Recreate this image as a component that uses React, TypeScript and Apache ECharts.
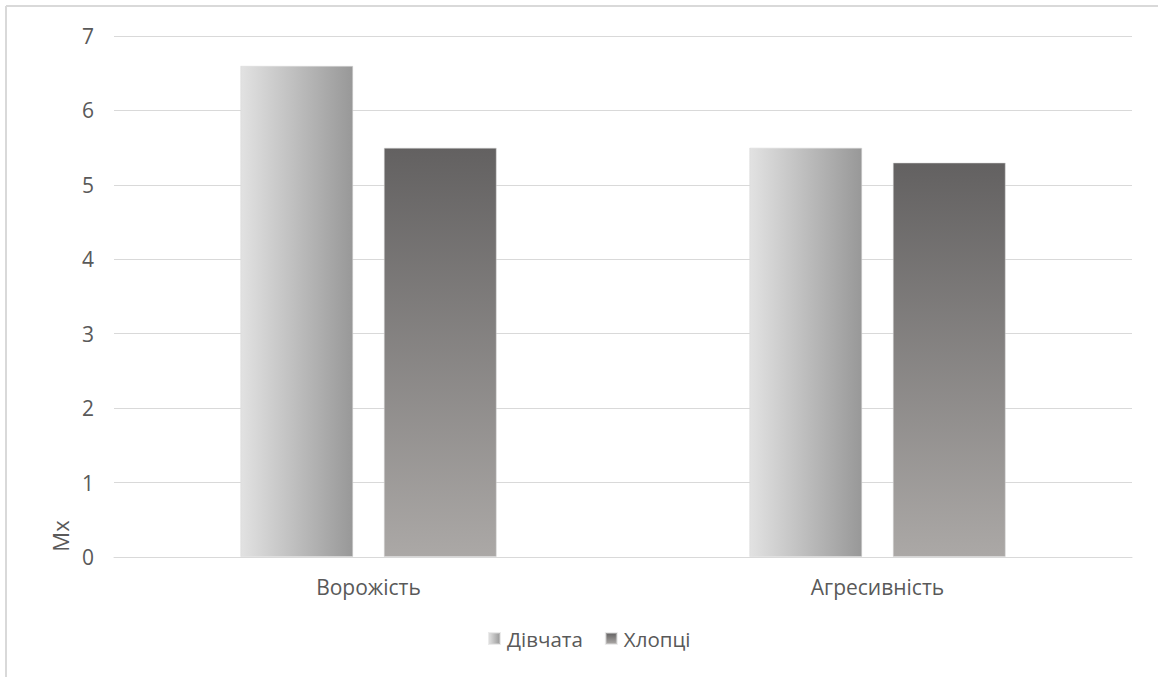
import React, { useEffect, useRef } from "react";
import * as echarts from "echarts";

const categories = ["Ворожість", "Агресивність"];
const girls = [6.6, 5.5];
const boys = [5.5, 5.3];
const seriesNames = ["Дівчата", "Хлопці"];
const yAxisTitle = "Mx";

export default function App() {
  const ref = useRef<HTMLDivElement>(null);
  useEffect(() => {
    const chart = echarts.init(ref.current!, null, { renderer: "svg" });
    const font = "'Open Sans', 'Noto Sans', sans-serif";
    chart.setOption({
      animation: false,
      backgroundColor: "#ffffff",
      textStyle: { fontFamily: font },
      grid: { left: 114, right: 26, top: 36, bottom: 120, containLabel: false },
      legend: {
        data: seriesNames,
        bottom: 23,
        left: 483,
        itemWidth: 11,
        itemHeight: 11,
        itemGap: 22,
        icon: "rect",
        textStyle: { color: "#595959", fontSize: 20.5, fontFamily: font, padding: [0, 0, 0, 2] },
      },
      graphic: [
        { type: "line", shape: { x1: 6, y1: 6, x2: 1158, y2: 6 }, style: { stroke: "#d9d9d9", lineWidth: 2 } },
        { type: "line", shape: { x1: 6, y1: 6, x2: 6, y2: 677 }, style: { stroke: "#d9d9d9", lineWidth: 2 } },
        {
          type: "text",
          x: 60,
          y: 536,
          rotation: Math.PI / 2,
          style: {
            text: yAxisTitle,
            fill: "#595959",
            fontSize: 22,
            fontFamily: font,
            align: "center",
            verticalAlign: "middle",
          },
        },
      ],
      xAxis: {
        type: "category",
        data: categories,
        axisLine: { lineStyle: { color: "#d9d9d9", width: 1 } },
        axisTick: { show: false },
        axisLabel: { color: "#595959", fontSize: 21, margin: 19, fontFamily: font },
      },
      yAxis: {
        type: "value",
        min: 0,
        max: 7,
        interval: 1,
        axisLine: { show: false },
        axisTick: { show: false },
        splitLine: { lineStyle: { color: "#d9d9d9", width: 1 } },
        axisLabel: { color: "#595959", fontSize: 21, margin: 20, fontFamily: font },
      },
      series: [
        {
          name: seriesNames[0],
          type: "bar",
          data: girls,
          barWidth: 113,
          barGap: "27%",
          itemStyle: {
            color: new echarts.graphic.LinearGradient(0, 0, 1, 0, [
              { offset: 0, color: "#e2e2e2" },
              { offset: 1, color: "#989898" },
            ]),
            borderColor: "rgba(215,215,215,0.5)",
            borderWidth: 1,
          },
        },
        {
          name: seriesNames[1],
          type: "bar",
          data: boys,
          barWidth: 113,
          itemStyle: {
            color: new echarts.graphic.LinearGradient(0, 0, 0, 1, [
              { offset: 0, color: "#636161" },
              { offset: 1, color: "#aba8a6" },
            ]),
            borderColor: "rgba(215,215,215,0.5)",
            borderWidth: 1,
          },
        },
      ],
    });
    return () => chart.dispose();
  }, []);
  return (
    <div
      ref={ref}
      style={{ position: "absolute", left: 0, top: 0, width: 1158, height: 677 }}
    />
  );
}
